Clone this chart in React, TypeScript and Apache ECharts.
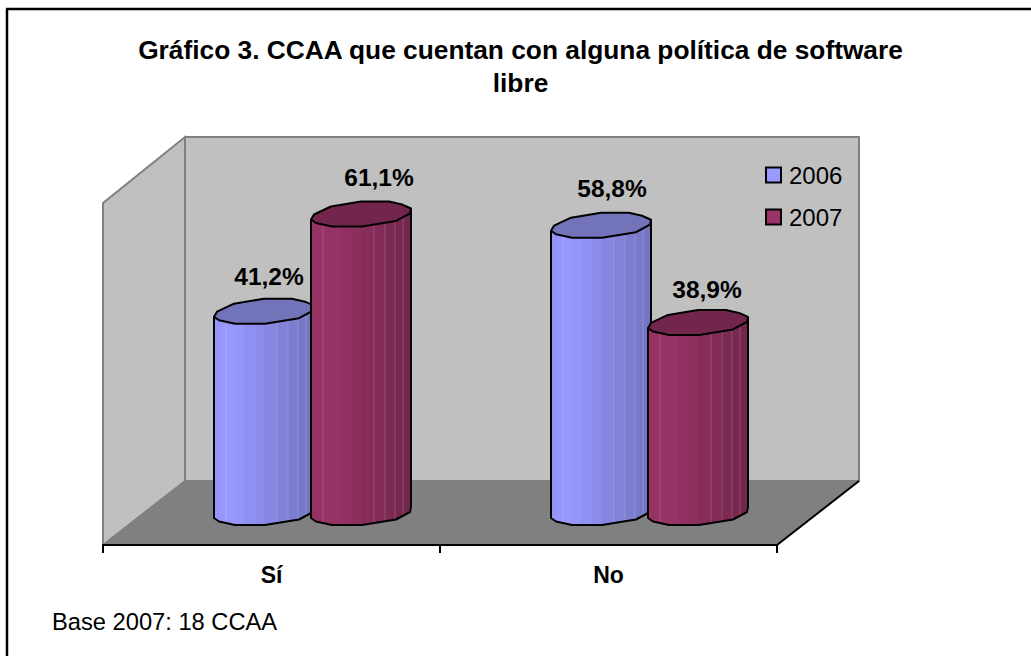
import React, { useEffect, useRef } from "react";
import * as echarts from "echarts";

const categories = ["Sí", "No"];
const years = ["2006", "2007"];
const values2006 = [41.2, 58.8];
const values2007 = [61.1, 38.9];
const valueLabels2006 = ["41,2%", "58,8%"];
const valueLabels2007 = ["61,1%", "38,9%"];
const titleText = "Gráfico 3. CCAA que cuentan con alguna política de software\nlibre";
const footerText = "Base 2007: 18 CCAA";

const FONT = '"Liberation Sans", Arial, sans-serif';
const DEPTH_X = 41;
const DEPTH_Y = -27;
const OFFSETS = [-98.5, -1.5];
const FRONT: number[][] = [[0, 0], [5, 3.5], [21, 7], [51, 7], [85, 1.5], [99, -6], [100, -11]];
const BACK: number[][] = [[100, -11], [91, -15], [78, -18], [50, -18], [20, -13], [3, -5], [0, 0]];
const EDGES = [0, 5, 12, 21, 31, 42, 51, 63, 74, 84, 92, 96, 100];
const GLOSS = [12, 63, 74, 84, 92];
const LABEL_NUDGE = [
  [[55, -40], [61, -42]],
  [[68, -42], [59, -38]],
];

const PALETTE = [
  { rgb: [153, 153, 255], top: "#7373ba" },
  { rgb: [153, 51, 102], top: "#73264d" },
];

function frontY(x: number): number {
  for (let i = 1; i < FRONT.length; i++) {
    const a = FRONT[i - 1];
    const b = FRONT[i];
    if (x <= b[0]) return a[1] + ((b[1] - a[1]) * (x - a[0])) / (b[0] - a[0]);
  }
  return FRONT[FRONT.length - 1][1];
}

function shade(rgb: number[], x: number): string {
  const f = x < 20 ? 0.97 + (x / 20) * 0.03 : 1 - ((x - 20) / 80) * 0.25;
  return `rgb(${rgb.map((c) => Math.round(c * f)).join(",")})`;
}

function cylinder(seriesIndex: number, labels: string[]) {
  return (_params: any, api: any) => {
    const cat = api.value(0);
    const base = api.coord([cat, 0]);
    const top = api.coord([cat, api.value(1)]);
    const left = base[0] + DEPTH_X + OFFSETS[seriesIndex];
    const y0 = base[1] + DEPTH_Y;
    const y1 = top[1] + DEPTH_Y;
    const children: any[] = [];
    const { rgb, top: topFill } = PALETTE[seriesIndex];

    for (let i = 0; i < EDGES.length - 1; i++) {
      const a = EDGES[i];
      const b = EDGES[i + 1];
      const fill = shade(rgb, (a + b) / 2);
      children.push({
        type: "polygon",
        shape: {
          points: [
            [left + a, y1 + frontY(a)],
            [left + b, y1 + frontY(b)],
            [left + b, y0 + frontY(b)],
            [left + a, y0 + frontY(a)],
          ],
        },
        style: { fill, stroke: fill, lineWidth: 0.6 },
      });
    }
    GLOSS.forEach((x) => {
      children.push({
        type: "line",
        shape: { x1: left + x, y1: y1 + frontY(x), x2: left + x, y2: y0 + frontY(x) },
        style: { stroke: "rgba(255,255,255,0.18)", lineWidth: 1 },
      });
    });
    const bottom = FRONT.map((p) => [left + p[0], y0 + p[1]]);
    children.push({
      type: "polyline",
      shape: {
        points: [[left, y1], ...bottom, [left + 100, y1 - 11]],
      },
      style: { fill: "none", stroke: "#000", lineWidth: 2, lineJoin: "round" },
    });
    const lid = [...FRONT, ...BACK.slice(1)].map((p) => [left + p[0], y1 + p[1]]);
    children.push({
      type: "polygon",
      shape: { points: lid },
      style: { fill: topFill, stroke: "#000", lineWidth: 2, lineJoin: "round" },
    });
    const nudge = LABEL_NUDGE[seriesIndex][cat];
    children.push({
      type: "text",
      x: left + nudge[0],
      y: y1 + nudge[1],
      z2: 10,
      style: {
        text: labels[cat],
        fontFamily: FONT,
        fontSize: 24.5,
        fontWeight: "bold",
        fill: "#000",
        align: "center",
        verticalAlign: "middle",
      },
    });
    return { type: "group", children };
  };
}

export default function App() {
  const ref = useRef<HTMLDivElement>(null);
  useEffect(() => {
    document.body.style.margin = "0";
    const chart = echarts.init(ref.current!, undefined, { renderer: "svg" });
    chart.setOption({
      animation: false,
      backgroundColor: "#fff",
      title: [
        {
          text: titleText,
          left: 515.5,
          top: 28,
          textAlign: "center",
          textStyle: { fontFamily: FONT, fontSize: 26.3, fontWeight: "bold", color: "#000", lineHeight: 33 },
        },
        {
          text: footerText,
          left: 52,
          top: 610,
          padding: 0,
          textStyle: { fontFamily: FONT, fontSize: 23.7, fontWeight: "normal", color: "#000" },
        },
      ],
      legend: {
        data: years,
        orient: "vertical",
        left: 765,
        top: 163,
        padding: 0,
        itemWidth: 15,
        itemHeight: 15,
        itemGap: 18,
        icon: "rect",
        itemStyle: { borderColor: "#000", borderWidth: 2 },
        textStyle: { fontFamily: FONT, fontSize: 24, color: "#000", padding: [0, 0, 0, 3] },
      },
      grid: { left: 103, top: 203, width: 674, height: 342, containLabel: false },
      xAxis: {
        type: "category",
        data: categories,
        boundaryGap: true,
        z: 3,
        axisLine: { lineStyle: { color: "#000", width: 2 } },
        axisTick: { show: true, length: 8, lineStyle: { color: "#000", width: 2 } },
        axisLabel: { fontFamily: FONT, fontSize: 23, fontWeight: "bold", color: "#000", margin: 18 },
      },
      yAxis: { type: "value", min: 0, max: 70, show: false },
      graphic: [
        {
          type: "line",
          z: -5,
          shape: { x1: 7, y1: 9, x2: 7, y2: 656 },
          style: { stroke: "#000", lineWidth: 2.5 },
        },
        {
          type: "line",
          z: -5,
          shape: { x1: 6, y1: 9, x2: 1031, y2: 9 },
          style: { stroke: "#000", lineWidth: 2.5 },
        },
        {
          type: "polygon",
          z: -4,
          shape: { points: [[185, 137], [859, 137], [859, 481], [185, 481]] },
          style: { fill: "#c0c0c0", stroke: "#808080", lineWidth: 2 },
        },
        {
          type: "polygon",
          z: -4,
          shape: { points: [[103, 203], [185, 137], [185, 481], [103, 545]] },
          style: { fill: "#c0c0c0", stroke: "#808080", lineWidth: 2 },
        },
        {
          type: "polygon",
          z: -3,
          shape: { points: [[103, 545], [185, 481], [859, 481], [777, 545]] },
          style: { fill: "#808080", stroke: "#808080", lineWidth: 1 },
        },
        {
          type: "line",
          z: -2,
          shape: { x1: 777, y1: 545, x2: 859, y2: 481 },
          style: { stroke: "#000", lineWidth: 2 },
        },
      ],
      series: [
        {
          type: "custom",
          name: years[0],
          data: values2006.map((v, i) => [i, v]),
          encode: { x: 0, y: 1 },
          itemStyle: { color: "#9999ff" },
          renderItem: cylinder(0, valueLabels2006),
          silent: true,
          z: 2,
        },
        {
          type: "custom",
          name: years[1],
          data: values2007.map((v, i) => [i, v]),
          encode: { x: 0, y: 1 },
          itemStyle: { color: "#993366" },
          renderItem: cylinder(1, valueLabels2007),
          silent: true,
          z: 3,
        },
      ],
    });
    return () => chart.dispose();
  }, []);
  return <div ref={ref} style={{ position: "absolute", left: 0, top: 0, width: 1031, height: 656 }} />;
}
